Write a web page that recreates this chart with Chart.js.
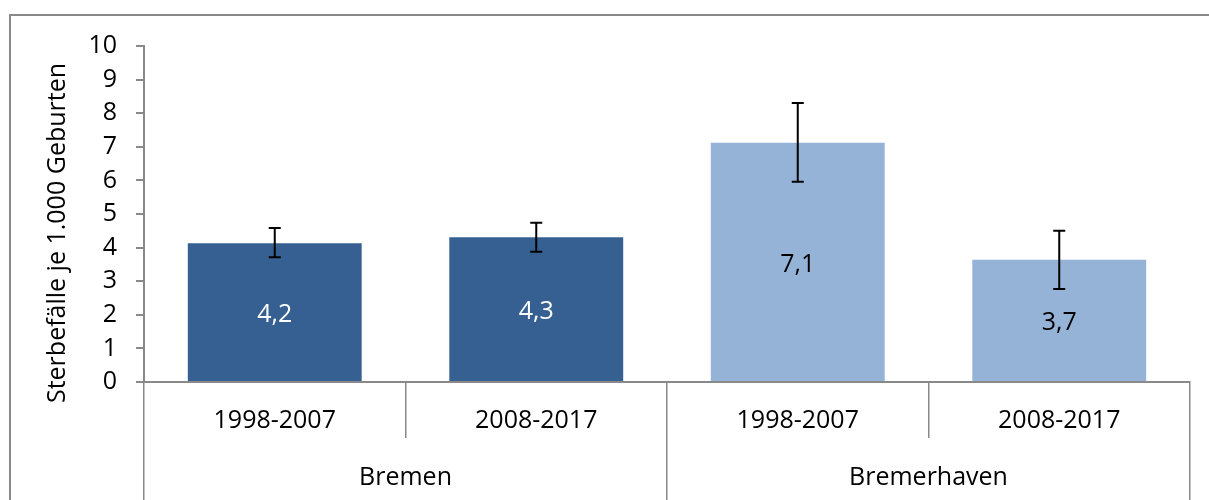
<!DOCTYPE html>
<html><head><meta charset="utf-8">
<script src="https://cdn.jsdelivr.net/npm/chart.js@4"></script>
<style>
html,body{margin:0;padding:0;background:#fff;overflow:hidden;}
#wrap{position:relative;width:1209px;height:500px;overflow:hidden;}
#frame{position:absolute;left:9px;top:14px;width:1300px;height:600px;border:2px solid #898989;}
canvas{position:absolute;left:0;top:0;}
</style></head><body>
<div id="wrap"><div id="frame"></div><canvas id="c" width="1209" height="500"></canvas></div>
<script>
// ---- data ----
const periods = ['1998-2007', '2008-2017', '1998-2007', '2008-2017'];
const groups = ['Bremen', 'Bremerhaven'];
const values = [4.13, 4.31, 7.12, 3.64];
const valueLabels = ['4,2', '4,3', '7,1', '3,7'];
const errLow = [3.71, 3.88, 5.96, 2.77];
const errHigh = [4.58, 4.74, 8.30, 4.50];
const yMin = 0, yMax = 10, yStep = 1;
const yTitle = 'Sterbefälle je 1.000 Geburten';

// ---- styles ----
const barColors = ['#376092', '#376092', '#95B3D7', '#95B3D7'];
const labelColors = ['#ffffff', '#ffffff', '#000000', '#000000'];
const FONT = '"Open Sans", sans-serif';
const AXIS = '#898989';

const overlay = {
  id: 'overlay',
  afterDatasetsDraw(chart) {
    const ctx = chart.ctx;
    const ys = chart.scales.y;
    const meta = chart.getDatasetMeta(0);
    ctx.save();
    meta.data.forEach((bar, i) => {
      const x = bar.x;
      ctx.fillStyle = labelColors[i];
      ctx.font = '25px ' + FONT;
      ctx.textAlign = 'center';
      ctx.textBaseline = 'middle';
      ctx.fillText(valueLabels[i], x, (bar.y + bar.base) / 2 + 3);
      const yh = ys.getPixelForValue(errHigh[i]);
      const yl = ys.getPixelForValue(errLow[i]);
      ctx.strokeStyle = '#000';
      ctx.lineWidth = 2;
      ctx.beginPath();
      ctx.moveTo(x, yh); ctx.lineTo(x, yl);
      ctx.moveTo(x - 6, yh); ctx.lineTo(x + 6, yh);
      ctx.moveTo(x - 6, yl); ctx.lineTo(x + 6, yl);
      ctx.stroke();
    });
    ctx.restore();
  },
  afterDraw(chart) {
    const ctx = chart.ctx;
    ctx.save();
    ctx.translate(58, 233);
    ctx.rotate(-Math.PI / 2);
    ctx.fillStyle = '#000';
    ctx.font = '25px ' + FONT;
    ctx.textAlign = 'center';
    ctx.textBaseline = 'middle';
    ctx.fillText(yTitle, 0, 0);
    ctx.restore();
  }
};

new Chart(document.getElementById('c'), {
  type: 'bar',
  data: {
    labels: periods,
    datasets: [{
      data: values,
      backgroundColor: barColors,
      borderWidth: 0,
      categoryPercentage: 1,
      barPercentage: 0.665
    }]
  },
  options: {
    responsive: false,
    animation: false,
    layout: { padding: { left: 0, top: 46, right: 19, bottom: 0 } },
    plugins: { legend: { display: false }, tooltip: { enabled: false } },
    scales: {
      x: {
        type: 'category',
        offset: true,
        grid: { offset: true, drawOnChartArea: false, drawTicks: true, tickLength: 56, color: AXIS, lineWidth: 1.5 },
        border: { display: true, color: AXIS, width: 2 },
        ticks: { color: '#000', font: { family: FONT, size: 25 }, padding: -32, maxRotation: 0, autoSkip: false },
        afterFit(s) { s.height = 56; }
      },
      x2: {
        type: 'category',
        labels: groups,
        position: 'bottom',
        weight: 1,
        offset: true,
        grid: { offset: true, drawOnChartArea: false, drawTicks: true, tickLength: 62, color: AXIS, lineWidth: 1.5 },
        border: { display: false },
        ticks: { color: '#000', font: { family: FONT, size: 25 }, padding: -37, maxRotation: 0, autoSkip: false },
        afterFit(s) { s.height = 62; }
      },
      y: {
        min: yMin, max: yMax,
        ticks: { stepSize: yStep, color: '#000', font: { family: FONT, size: 25 }, padding: 19 },
        grid: { drawOnChartArea: false, drawTicks: true, tickLength: 8, color: AXIS, lineWidth: 2 },
        border: { display: true, color: AXIS, width: 2 },
        afterFit(s) { s.width = 144; }
      }
    }
  },
  plugins: [overlay]
});
</script>
</body></html>
